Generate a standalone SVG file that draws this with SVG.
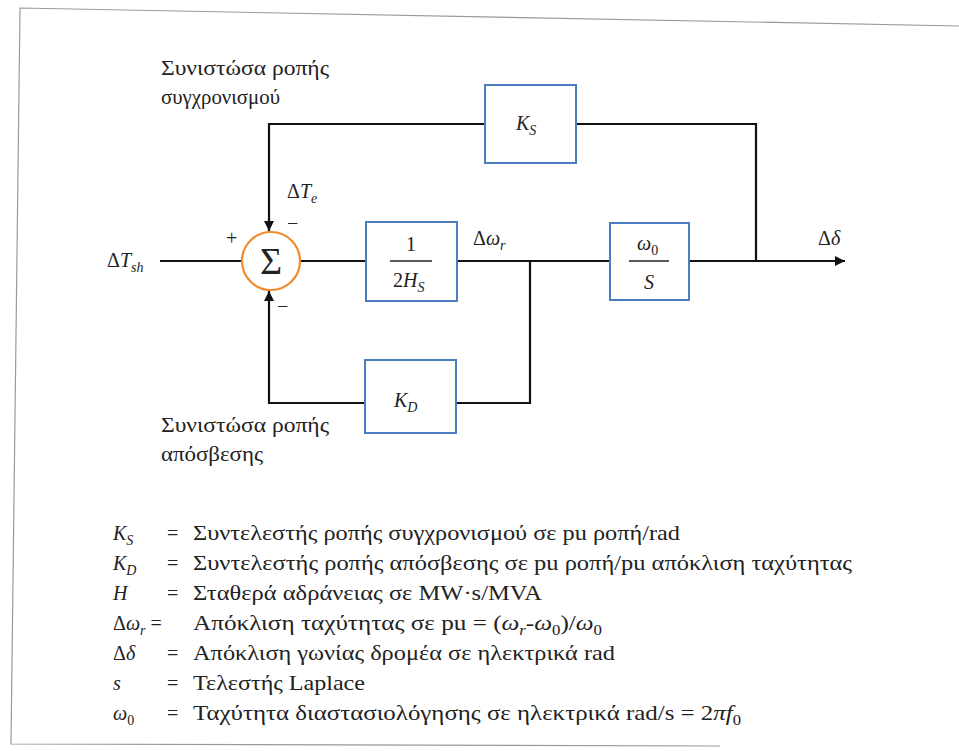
<svg xmlns="http://www.w3.org/2000/svg" width="959" height="751" viewBox="0 0 959 751">
<defs>
<marker id="arr" viewBox="0 0 10 10" refX="10" refY="5" markerWidth="10" markerHeight="10" markerUnits="userSpaceOnUse" orient="auto">
<path d="M0,0 L10,5 L0,10 Z" fill="#111"/>
</marker>
<style>
.frame{fill:none;stroke:#9a9a9a;stroke-width:1.2}
.blk{fill:#fff;stroke:#4a7cc0;stroke-width:2}
.sum{fill:#fff;stroke:#f08a2a;stroke-width:2.2}
.w{fill:none;stroke:#111;stroke-width:2.2}
.t{font-family:"Liberation Serif","Noto Serif","DejaVu Serif",serif;fill:#222;font-size:20px}
.g{font-size:21px}
.i{font-style:italic}
.c{text-anchor:middle}
.sub{font-size:14px}
.big{font-size:38px}
</style>
</defs>
<rect width="959" height="751" fill="#fff"/>
<path class="frame" d="M959,26 L20,8 L11,744 L720,746"/>

<g id="connectors">
<path class="w" d="M160,261 H241"/>
<path class="w" d="M300,261 H366"/>
<path class="w" d="M457,261 H610"/>
<path class="w" d="M689,261 H845" marker-end="url(#arr)"/>
<path class="w" d="M530,261 V403 H456"/>
<path class="w" d="M365,403 H269 V291" marker-end="url(#arr)"/>
<path class="w" d="M756,261 V124 H576"/>
<path class="w" d="M485,124 H269 V231" marker-end="url(#arr)"/>
</g>

<g id="sum">
<circle class="sum" cx="271" cy="261" r="29"/>
<text class="t c big" x="271" y="274">Σ</text>
<text class="t" x="226" y="245">+</text>
<text class="t" x="287" y="230">−</text>
<text class="t" x="277" y="313">−</text>
</g>

<g id="input">
<text class="t" x="107" y="267">Δ<tspan class="i">T</tspan><tspan class="i sub" dy="5">sh</tspan></text>
</g>

<g id="te-label">
<text class="t" x="287" y="198">Δ<tspan class="i">T</tspan><tspan class="i sub" dy="5">e</tspan></text>
</g>

<g id="block-2hs">
<rect class="blk" x="366" y="222" width="91" height="79"/>
<text class="t c" x="411" y="251">1</text>
<line x1="390" y1="261" x2="432" y2="261" stroke="#222" stroke-width="1.3"/>
<text class="t" x="393" y="287">2<tspan class="i">H</tspan><tspan class="i sub" dy="5">S</tspan></text>
</g>

<g id="wr-label">
<text class="t" x="473" y="245">Δ<tspan class="i">ω</tspan><tspan class="i sub" dy="5">r</tspan></text>
</g>

<g id="block-w0s">
<rect class="blk" x="610" y="223" width="79" height="77"/>
<text class="t" x="637" y="250"><tspan class="i">ω</tspan><tspan class="sub" dy="5">0</tspan></text>
<line x1="629" y1="261" x2="669" y2="261" stroke="#222" stroke-width="1.3"/>
<text class="t c i" x="649" y="289">S</text>
</g>

<g id="output">
<text class="t" x="818" y="245">Δ<tspan class="i">δ</tspan></text>
</g>

<g id="block-ks">
<rect class="blk" x="485" y="85" width="91" height="78"/>
<text class="t i" x="516" y="130">K<tspan class="sub" dy="5">S</tspan></text>
</g>

<g id="block-kd">
<rect class="blk" x="365" y="360" width="91" height="73"/>
<text class="t i" x="394" y="407">K<tspan class="sub" dy="5">D</tspan></text>
</g>

<g id="label-sync">
<text class="t g" x="161" y="75" textLength="168" lengthAdjust="spacingAndGlyphs">Συνιστώσα ροπής</text>
<text class="t g" x="161" y="104" textLength="119" lengthAdjust="spacingAndGlyphs">συγχρονισμού</text>
</g>

<g id="label-damp">
<text class="t g" x="161" y="432" textLength="168" lengthAdjust="spacingAndGlyphs">Συνιστώσα ροπής</text>
<text class="t g" x="161" y="461" textLength="102" lengthAdjust="spacingAndGlyphs">απόσβεσης</text>
</g>

<g id="legend">
<text class="t i" x="113" y="540">K<tspan class="sub" dy="5">S</tspan></text>
<text class="t" x="167" y="540">=</text>
<text class="t g" x="193" y="540" textLength="487" lengthAdjust="spacingAndGlyphs">Συντελεστής ροπής συγχρονισμού σε pu ροπή/rad</text>

<text class="t i" x="113" y="570">K<tspan class="sub" dy="5">D</tspan></text>
<text class="t" x="167" y="570">=</text>
<text class="t g" x="193" y="570" textLength="659" lengthAdjust="spacingAndGlyphs">Συντελεστής ροπής απόσβεσης σε pu ροπή/pu απόκλιση ταχύτητας</text>

<text class="t i" x="113" y="600">H</text>
<text class="t" x="167" y="600">=</text>
<text class="t g" x="193" y="600" textLength="349" lengthAdjust="spacingAndGlyphs">Σταθερά αδράνειας σε MW·s/MVA</text>

<text class="t" x="113" y="630">Δ<tspan class="i">ω</tspan><tspan class="i sub" dy="5">r</tspan><tspan dy="-5"> =</tspan></text>
<text class="t g" x="193" y="630" textLength="409" lengthAdjust="spacingAndGlyphs">Απόκλιση ταχύτητας σε pu = (<tspan class="i">ω</tspan><tspan class="i sub" dy="5">r</tspan><tspan dy="-5">-</tspan><tspan class="i">ω</tspan><tspan class="sub" dy="5">0</tspan><tspan dy="-5">)/</tspan><tspan class="i">ω</tspan><tspan class="sub" dy="5">0</tspan></text>

<text class="t" x="113" y="660">Δ<tspan class="i">δ</tspan></text>
<text class="t" x="167" y="660">=</text>
<text class="t g" x="193" y="660" textLength="422" lengthAdjust="spacingAndGlyphs">Απόκλιση γωνίας δρομέα σε ηλεκτρικά rad</text>

<text class="t i" x="113" y="690">s</text>
<text class="t" x="167" y="690">=</text>
<text class="t g" x="193" y="690" textLength="172" lengthAdjust="spacingAndGlyphs">Τελεστής Laplace</text>

<text class="t" x="113" y="720"><tspan class="i">ω</tspan><tspan class="sub" dy="5">0</tspan></text>
<text class="t" x="167" y="720">=</text>
<text class="t g" x="193" y="720" textLength="548" lengthAdjust="spacingAndGlyphs">Ταχύτητα διαστασιολόγησης σε ηλεκτρικά rad/s = 2<tspan class="i">πf</tspan><tspan class="sub" dy="5">0</tspan></text>
</g>
</svg>
